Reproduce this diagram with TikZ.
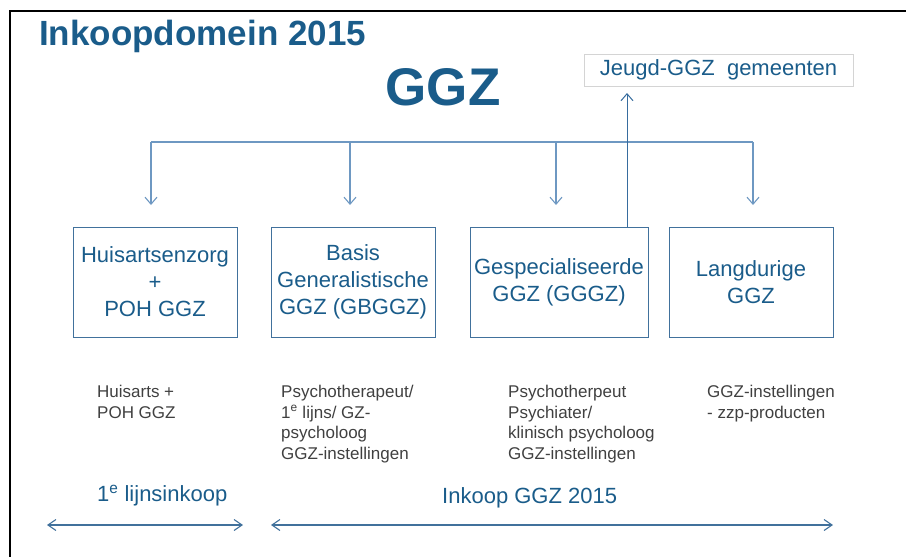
\documentclass[tikz,border=0pt]{standalone}
\usepackage{fontspec}
\setmainfont{Liberation Sans}
\usetikzlibrary{arrows.meta}
\definecolor{ggzblue}{RGB}{26,92,138}
\definecolor{boxline}{RGB}{65,113,156}
\definecolor{linkblue}{RGB}{110,152,194}
\definecolor{upblue}{RGB}{55,108,158}
\definecolor{textgray}{RGB}{64,64,64}
\definecolor{jeugdgray}{RGB}{212,212,212}
\begin{document}
\begin{tikzpicture}[x=1pt, y=-1pt,
   zorg/.style={draw=boxline, line width=1pt, text=ggzblue, align=center,
      minimum height=110pt, inner sep=0pt, font=\fontsize{22}{27}\selectfont},
   aanbod/.style={anchor=north west, inner sep=0pt, align=left, text=textgray,
      font=\fontsize{17}{20.5}\selectfont},
   inkoop/.style={anchor=base west, inner sep=0pt, text=ggzblue,
      font=\fontsize{22}{26}\selectfont},
   pijl/.style={draw=linkblue, line width=1.1pt, -{Straight Barb[length=7pt,width=12pt]}},
   tweepijl/.style={draw=boxline, line width=1.1pt,
      {Straight Barb[length=8pt,width=11pt]}-{Straight Barb[length=8pt,width=11pt]}}]
   \useasboundingbox (0,0) rectangle (906,557);
   % Frame of the slide
   \draw[line width=2.8pt] (10,557) -- (10,11) -- (906,11);

   % Titles
   \node[anchor=base west, inner sep=0pt, text=ggzblue, font=\bfseries\fontsize{35}{40}\selectfont] (titel) at (39,45) {Inkoopdomein 2015};
   \node[anchor=base, inner sep=0pt, text=ggzblue, font=\bfseries\fontsize{53}{60}\selectfont] (ggz) at (443,105) {GGZ};
   \node[draw=jeugdgray, line width=1pt, minimum width=269pt, minimum height=32pt, inner sep=0pt,
      text=ggzblue, font=\fontsize{22}{26}\selectfont] (jeugd) at (718.5,70) {Jeugd-GGZ\ \ gemeenten};

   % The four domains
   \node[zorg, minimum width=164pt] (huisarts) at (155,282) {Huisartsenzorg\\+\\POH GGZ};
   \node[zorg, minimum width=164pt] (basis) at (353,282) {Basis\\Generalistische\\GGZ (GBGGZ)};
   \node[zorg, minimum width=178pt] (gespec) at (559,282) {Gespecialiseerde\\GGZ (GGGZ)};
   \node[zorg, minimum width=164pt] (langdurig) at (751,282) {Langdurige\\GGZ};

   % Distribution lines
   \foreach \x [count=\n] in {151,350,556,753} {
      \coordinate (k\n) at (\x,142);
      \coordinate (p\n) at (\x,205);
      \draw[pijl] (k\n) -- (p\n);
   }
   \draw[draw=linkblue, line width=1.1pt] (k1) -- (k4);
   \coordinate (op) at (627,93);
   \draw[pijl, draw=upblue, line width=1pt] (gespec.north -| op) -- (op);

   % Providers
   \node[aanbod] (aanbod1) at (97,385) {Huisarts +\\POH GGZ};
   \node[aanbod] (aanbod2) at (281,385) {Psychotherapeut/\\1\textsuperscript{e} lijns/ GZ-\\psycholoog\\GGZ-instellingen};
   \node[aanbod] (aanbod3) at (508,385) {Psychotherpeut\\Psychiater/\\klinisch psycholoog\\GGZ-instellingen};
   \node[aanbod] (aanbod4) at (707,385) {GGZ-instellingen\\- zzp-producten};

   % Purchasing ranges
   \node[inkoop] (eerste) at (97,501) {1\textsuperscript{e} lijnsinkoop};
   \node[inkoop] (inkoop2015) at (442,503) {Inkoop GGZ 2015};
   \coordinate (e1) at (47,525);
   \coordinate (e2) at (243,525);
   \coordinate (g1) at (271,525);
   \coordinate (g2) at (833,525);
   \draw[tweepijl] (e1) -- (e2);
   \draw[tweepijl] (g1) -- (g2);
\end{tikzpicture}
\end{document}
